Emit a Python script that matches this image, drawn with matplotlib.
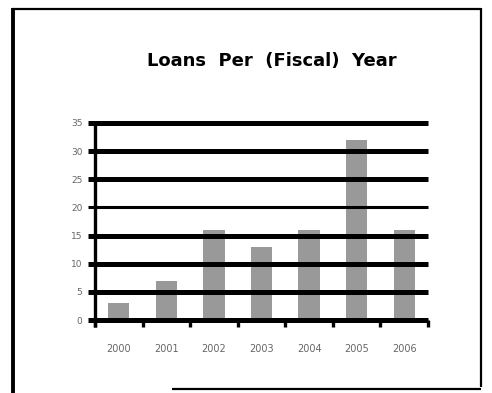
import matplotlib
matplotlib.use('Agg')
import matplotlib.pyplot as plt
from matplotlib.lines import Line2D

# ============================================================
# Data
# ============================================================
years = ['2000', '2001', '2002', '2003', '2004', '2005', '2006']
loans = [3, 7, 16, 13, 16, 32, 16]
y_ticks = [0, 5, 10, 15, 20, 25, 30, 35]

W, H = 492, 393
fig = plt.figure(figsize=(W / 100, H / 100), dpi=100)
fig.patch.set_facecolor('white')

# axes box in pixel terms: x 95..428, y 123..320
ax = fig.add_axes([95 / W, 1 - 320 / H, (428 - 95) / W, (320 - 123) / H])

x = list(range(len(years)))
ax.bar(x, loans, width=0.45, color='#999999', zorder=1)

ax.set_xlim(-0.5, len(years) - 0.5)
ax.set_ylim(0, 35)

# heavy horizontal gridlines, poking out past the y axis
for v in y_ticks:
    lw = 2.2 if v == 20 else 3.6
    ax.axhline(v, xmin=-0.021, xmax=1.0, color='black', linewidth=lw,
               clip_on=False, zorder=2, solid_capstyle='butt')

for side in ['top', 'right', 'bottom']:
    ax.spines[side].set_visible(False)
ax.spines['left'].set_linewidth(2.4)
ax.spines['left'].set_bounds(0, 35)
ax.spines['left'].set_zorder(3)

# y axis: no tick marks, gridlines do that job
ax.set_yticks(y_ticks)
ax.set_yticklabels([str(v) for v in y_ticks], fontsize=6.5, color='#666666')
ax.tick_params(axis='y', length=0, pad=9)

# x axis: ticks between categories, labels at the centres
ax.set_xticks([i - 0.5 for i in range(len(years) + 1)])
ax.set_xticklabels([''] * (len(years) + 1))
ax.tick_params(axis='x', direction='out', length=5, width=2.4, color='black')
ax.set_xticks(x, minor=True)
ax.set_xticklabels(years, minor=True, fontsize=7, color='#666666')
ax.tick_params(axis='x', which='minor', length=0, pad=17)

# extend y axis down to tick length
ax.add_line(Line2D([-0.5, -0.5], [0, -1.2], color='black', linewidth=2.4,
                   clip_on=False, solid_capstyle='butt'))

fig.text(272 / W, 1 - 61 / H, 'Loans  Per  (Fiscal)  Year', ha='center',
         va='center', fontsize=13, fontweight='bold', family='DejaVu Sans')

# page frame from the scan
def fl(x0, y0, x1, y1, lw):
    fig.add_artist(Line2D([x0 / W, x1 / W], [1 - y0 / H, 1 - y1 / H],
                          color='black', linewidth=lw, transform=fig.transFigure,
                          solid_capstyle='butt'))

fl(13, 8, 13, 393, 2.8)
fl(12, 9, 481, 9, 1.6)
fl(481, 8, 481, 387, 1.6)
fl(172, 389, 481, 389, 1.6)

fig.savefig('out.png', dpi=100, facecolor='white')
